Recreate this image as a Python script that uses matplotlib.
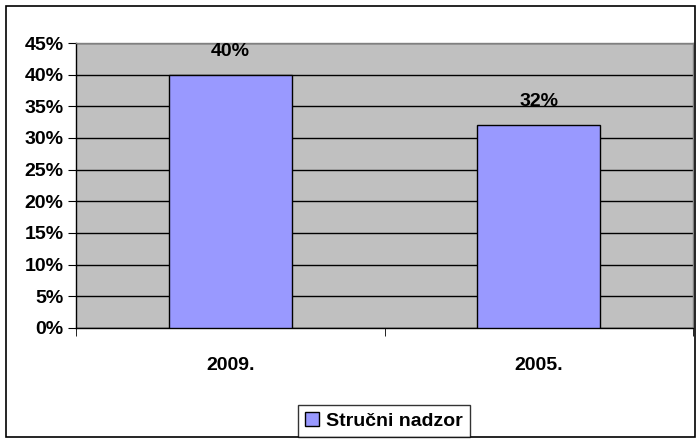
import matplotlib.pyplot as plt
from matplotlib.patches import Rectangle

# Data
categories = ['2009.', '2005.']
values = [40, 32]
series_name = 'Stručni nadzor'

plt.rcParams['font.family'] = ['Liberation Sans', 'DejaVu Sans']

fig = plt.figure(figsize=(6.99, 4.43), dpi=100)
ax = fig.add_axes([76/699, 1 - 328/443, 617/699, 285/443])

# outer chart border
fig.patches.append(Rectangle((6/699, 6/443), 689/699, 431/443, transform=fig.transFigure,
                             fill=False, edgecolor='black', linewidth=1.2))

ax.set_facecolor('#c0c0c0')
x = range(len(categories))
bars = ax.bar(x, values, width=0.4, color='#9999ff', edgecolor='black', linewidth=1,
              label=series_name, zorder=3)

for b, v in zip(bars, values):
    ax.annotate(f'{v}%', (b.get_x() + b.get_width() / 2, v), xytext=(0, 17),
                textcoords='offset points', ha='center', va='center',
                fontsize=14, fontweight='bold')

ax.set_xlim(-0.5, 1.5)
ax.set_ylim(0, 45)
ax.set_yticks(range(0, 46, 5))
ax.set_yticklabels([f'{t}%' for t in range(0, 46, 5)], fontsize=14, fontweight='bold')
ax.yaxis.grid(True, color='black', linewidth=1, zorder=0)
ax.set_axisbelow(True)

ax.set_xticks(list(x))
ax.set_xticklabels(categories, fontsize=14, fontweight='bold')
ax.tick_params(axis='x', length=0, pad=21)
ax.set_xticks([-0.5, 0.5, 1.5], minor=True)
ax.tick_params(axis='x', which='minor', length=6, direction='out', color='black')
ax.tick_params(axis='y', length=6, direction='out', pad=3)

for s in ['left', 'bottom']:
    ax.spines[s].set_color('black')
    ax.spines[s].set_linewidth(1)
for s in ['top', 'right']:
    ax.spines[s].set_color('#808080')
    ax.spines[s].set_linewidth(1)

leg = fig.legend(loc='center', bbox_to_anchor=(384/699, 1 - 421/443), frameon=True,
                 fancybox=False, edgecolor='black', handlelength=0.7,
                 handleheight=0.7, handletextpad=0.4, borderpad=0.35,
                 prop={'weight': 'bold', 'size': 14})
leg.get_frame().set_linewidth(1)

fig.savefig('out.png', dpi=100)
